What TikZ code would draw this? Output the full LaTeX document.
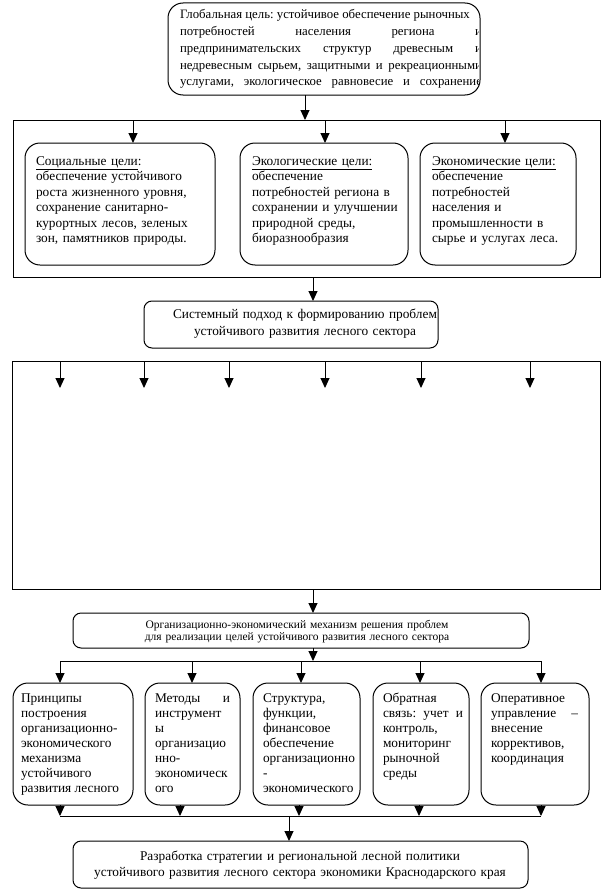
\documentclass[tikz,border=0pt]{standalone}
\usepackage{fontspec}
\setmainfont{Liberation Serif}
\usetikzlibrary{arrows.meta,calc}
\frenchspacing
\newcommand\mkbox[6]{\node[#2, minimum width={#5-#3}, minimum height={#6-#4}] (#1) at ({(#3+#5)/2},{(#4+#6)/2}) {};}
\newcommand\jl[2]{\leavevmode\hbox to #1{\spaceskip=0.25em plus 1fil\relax #2}}
\tikzset{
  ln/.style={line width=1pt},
  arr/.style={line width=1pt, -{Triangle[width=9pt,length=10pt]}},
  rbox/.style={draw, line width=1pt, rounded corners=15pt, inner sep=0pt, outer sep=0pt},
  sbox/.style={draw, line width=1pt, rounded corners=8pt, inner sep=0pt, outer sep=0pt},
  frame/.style={draw, line width=1pt, inner sep=0pt, outer sep=0pt},
  txt/.style={inner sep=0pt, outer sep=0pt, anchor=base west, align=left},
  ctxt/.style={inner sep=0pt, outer sep=0pt, anchor=base, align=center},
  gf/.style={font=\fontsize{13.33}{15.5}\selectfont},
  bf/.style={font=\fontsize{13.33}{15}\selectfont},
}
\begin{document}
\begin{tikzpicture}[x=1pt,y=-1pt]
\useasboundingbox (0,0) rectangle (602,891);
% boxes
\mkbox{glob}{rbox}{168}{3}{480}{95}
\mkbox{goals}{frame}{13}{120}{600}{277}
\mkbox{soc}{rbox}{25}{143}{215}{265}
\mkbox{eco}{rbox}{240}{143}{408}{265}
\mkbox{econ}{rbox}{420}{143}{576}{265}
\mkbox{sys}{sbox}{144}{301}{438}{348}
\mkbox{big}{frame}{12}{361}{600}{589}
\mkbox{org}{sbox}{73}{613}{529}{648}
\mkbox{b1}{rbox}{13}{683}{133}{805}
\mkbox{b2}{rbox}{145}{683}{240}{805}
\mkbox{b3}{rbox}{253}{683}{360}{805}
\mkbox{b4}{rbox}{373}{683}{469}{805}
\mkbox{b5}{rbox}{481}{683}{589}{805}
\mkbox{fin}{sbox}{73}{841}{528}{888}
% texts
\begin{scope}
\clip (170,5) rectangle (478.5,93);
\node[txt, text width=302pt, font=\fontsize{12.8}{16.7}\selectfont] (gt) at (180,19)
 {\jl{288pt}{Глобальная цель: устойчивое обеспечение рыночных}\\
  \jl{302pt}{потребностей населения региона и}\\
  \jl{302pt}{предпринимательских структур древесным и}\\
  \jl{302pt}{недревесным сырьем, защитными и рекреационными}\\
  \jl{302pt}{услугами, экологическое равновесие и сохранение}};
\end{scope}
\node[txt, gf, text width=180pt] (st) at (36,165)
 {\underline{Социальные цели}:\\ обеспечение устойчивого\\ роста жизненного уровня,\\ сохранение санитарно-\\ курортных лесов, зеленых\\ зон, памятников природы.};
\node[txt, gf, text width=160pt] (et) at (252,165)
 {\underline{Экологические цели:}\\ обеспечение\\ потребностей региона в\\ сохранении и улучшении\\ природной среды,\\ биоразнообразия};
\node[txt, gf, text width=140pt] (ect) at (432,165)
 {\underline{Экономические цели:}\\ обеспечение\\ потребностей\\ населения и\\ промышленности в\\ сырье и услугах леса.};
\node[ctxt, text width=290pt, font=\fontsize{13.33}{17}\selectfont] (syt) at (305,318)
 {Системный подход к формированию проблем\\ устойчивого развития лесного сектора};
\node[ctxt, text width=440pt, font=\fontsize{11.5}{12}\selectfont] (ot) at (297,628)
 {Организационно-экономический механизм решения проблем\\ для реализации целей устойчивого развития лесного сектора};
\node[txt, bf, text width=98pt] (t1) at (21,702)
 {Принципы\\ построения\\ организационно-\\ экономического\\ механизма\\ устойчивого\\ \jl{98pt}{развития лесного}};
\node[txt, bf, text width=75pt] (t2) at (155,702)
 {\jl{75pt}{Методы и}\\ инструмент\\ ы\\ организацио\\ нно-\\ экономическ\\ ого};
\node[txt, bf, text width=84pt] (t3) at (263,702)
 {Структура,\\ функции,\\ финансовое\\ обеспечение\\ организационно\\ -\\ экономического};
\node[txt, bf, text width=80pt] (t4) at (383,702)
 {Обратная\\ \jl{80pt}{связь: учет и}\\ контроль,\\ мониторинг\\ рыночной\\ среды};
\node[txt, bf, text width=87pt] (t5) at (491,702)
 {Оперативное\\ \jl{87pt}{управление –}\\ внесение\\ корректив­ов,\\ координация};
\node[ctxt, text width=450pt, font=\fontsize{13.33}{16}\selectfont] (ft) at (300,860)
 {Разработка стратегии и региональной лесной политики\\ устойчивого развития лесного сектора экономики Краснодарского края};
% connectors
\coordinate (c305) at (305,0);
\draw[arr] (glob.south -| c305) -- (goals.north -| c305);
\coordinate (xa) at (133,0);
\coordinate (xb) at (325,0);
\coordinate (xc) at (505,0);
\draw[arr] (goals.north -| xa) -- (soc.north -| xa);
\draw[arr] (goals.north -| xb) -- (eco.north -| xb);
\draw[arr] (goals.north -| xc) -- (econ.north -| xc);
\coordinate (x313) at (313,0);
\draw[arr] (goals.south -| x313) -- (sys.north -| x313);
\foreach \x [count=\i] in {60,144,229,325,421,530}{
  \coordinate (bt\i) at (\x,388);
  \draw[arr] (big.north -| bt\i) -- (bt\i);
}
\draw[arr] (big.south -| x313) -- (org.north -| x313);
\coordinate (hc) at (313,661);
\draw[arr] (org.south -| hc) -- (hc);
\coordinate (h1) at (60,661);
\coordinate (h2) at (192,661);
\coordinate (h3) at (301,661);
\coordinate (h4) at (420,661);
\coordinate (h5) at (541,661);
\draw[ln] (h1) -- (h5);
\draw[arr] (h1) -- (b1.north -| h1);
\draw[arr] (h2) -- (b2.north -| h2);
\draw[arr] (h3) -- (b3.north -| h3);
\draw[arr] (h4) -- (b4.north -| h4);
\draw[arr] (h5) -- (b5.north -| h5);
\coordinate (l1) at (60,816);
\coordinate (l2) at (180,816);
\coordinate (l3) at (299,816);
\coordinate (l4) at (419,816);
\coordinate (l5) at (541,816);
\draw[ln] (l1) -- (l5);
\draw[arr] (b1.south -| l1) -- (l1);
\draw[arr] (b2.south -| l2) -- (l2);
\draw[arr] (b3.south -| l3) -- (l3);
\draw[arr] (b4.south -| l4) -- (l4);
\draw[arr] (b5.south -| l5) -- (l5);
\coordinate (fc) at (289,816);
\draw[arr] (fc) -- (fin.north -| fc);
\end{tikzpicture}
\end{document}
